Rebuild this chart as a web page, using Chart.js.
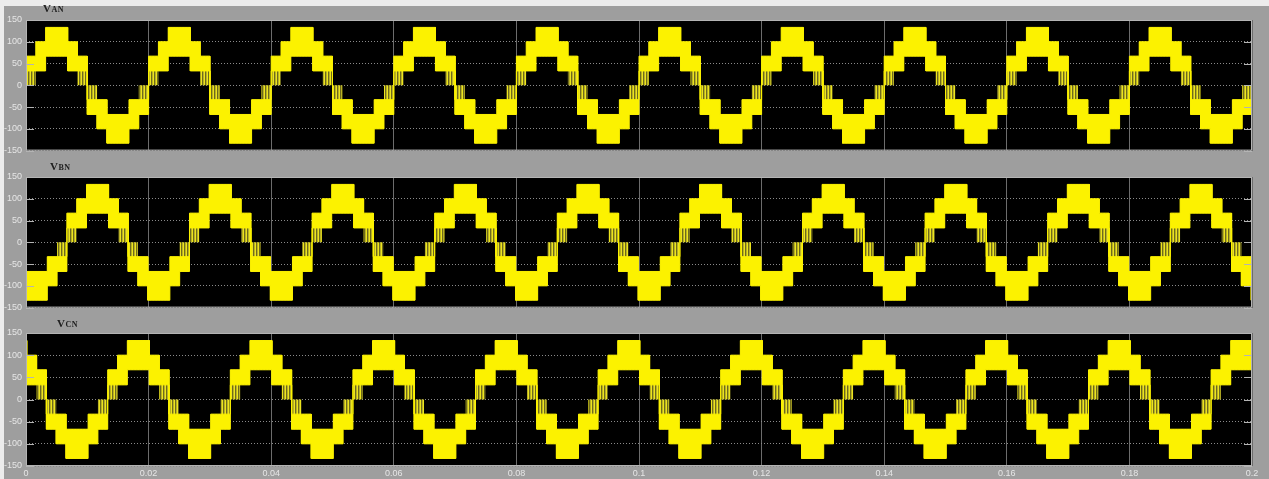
<!DOCTYPE html>
<html lang="en">
<head>
<meta charset="UTF-8">
<title>VAN / VBN / VCN</title>
<script src="https://cdn.jsdelivr.net/npm/chart.js"></script>
<style>
  body {
    margin: 0;
    width: 1269px;
    height: 479px;
    overflow: hidden;
    position: relative;
    background: #ececec;
  }
  #frame {
    position: absolute;
    left: 4px;
    top: 6px;
    width: 1265px;
    height: 473px;
    background: #9e9e9e;
  }
  canvas {
    position: absolute;
    left: 0;
  }
  .name {
    position: absolute;
    font-family: "Liberation Serif", serif;
    font-weight: bold;
    font-size: 8px;
    color: #202020;
    letter-spacing: 0.5px;
  }
  .name span {
    font-size: 11px;
  }
</style>
</head>
<body>
<div id="frame"></div>
<canvas id="van" width="1269" height="160" style="top:0"></canvas>
<canvas id="vbn" width="1269" height="157" style="top:160px"></canvas>
<canvas id="vcn" width="1269" height="162" style="top:317px"></canvas>
<div class="name" style="left:43px; top:2px"><span>V</span>AN</div>
<div class="name" style="left:50px; top:160px"><span>V</span>BN</div>
<div class="name" style="left:57px; top:317px"><span>V</span>CN</div>

<script>
// axes
const timeTicks = [0, 0.02, 0.04, 0.06, 0.08, 0.1, 0.12, 0.14, 0.16, 0.18, 0.2];
const timeTickLabels = ['0', '0.02', '0.04', '0.06', '0.08', '0.1', '0.12', '0.14', '0.16', '0.18', '0.2'];
const voltTicks = [-150, -100, -50, 0, 50, 100, 150];
const voltTickLabels = ['-150', '-100', '-50', '0', '50', '100', '150'];

// one period of the staircase (ms inside the period)
const periodMs = 20;
const cycles = 10;
const stepStartMs = [0, 1.6, 3.2, 6.8, 8.4, 10, 11.6, 13.2, 16.8, 18.4];
// whole band covered by the trace in each step (includes the sparse switching)
const outerTop    = [67, 100, 133, 100, 67, 0, -33, -67, -33, 0];
const outerBottom = [0, 33, 67, 33, 0, -67, -100, -133, -100, -67];
// the solid part of that band
const solidTop    = [67, 100, 133, 100, 67, -33, -33, -67, -33, -33];
const solidBottom = [33, 33, 67, 33, 33, -67, -100, -133, -100, -67];

// the three phases, each one delayed by a third of a period
const phaseIds = ['van', 'vbn', 'vcn'];
const phaseDelayMs = [0, 6.67, 13.33];

function band(values, delayMs) {
    const pts = [];
    for (let c = -1; c <= cycles; c++) {
        for (let i = 0; i < stepStartMs.length; i++) {
            const end = i + 1 < stepStartMs.length ? stepStartMs[i + 1] : periodMs;
            const t0 = (c * periodMs + delayMs + stepStartMs[i]) / 1000;
            const t1 = (c * periodMs + delayMs + end) / 1000;
            pts.push({ x: t0, y: values[i] }, { x: t1, y: values[i] });
        }
    }
    return pts;
}

// sparse switching shows up as thin vertical yellow lines
function stripes() {
    const c = document.createElement('canvas');
    c.width = 3;
    c.height = 1;
    const g = c.getContext('2d');
    g.fillStyle = '#ece41e'; g.fillRect(0, 0, 1, 1);
    g.fillStyle = '#6e6a1c'; g.fillRect(1, 0, 1, 1);
    g.fillStyle = '#b8b024'; g.fillRect(2, 0, 1, 1);
    return g.createPattern(c, 'repeat');
}

const plotFrame = {
    id: 'plotFrame',
    beforeDraw(chart) {
        const a = chart.chartArea;
        const ctx = chart.ctx;
        ctx.save();
        ctx.fillStyle = '#000000';
        ctx.fillRect(a.left, a.top, a.right - a.left, a.bottom - a.top);
        ctx.restore();
    },
    afterDraw(chart) {
        const a = chart.chartArea;
        const ctx = chart.ctx;
        const y = chart.scales.y;
        ctx.save();
        ctx.strokeStyle = '#b4b4b4';
        ctx.lineWidth = 1;
        ctx.strokeRect(a.left + 0.5, a.top + 0.5, a.right - a.left - 1, a.bottom - a.top - 1);
        ctx.beginPath();
        y.ticks.forEach(tk => {
            const py = Math.round(y.getPixelForValue(tk.value)) + 0.5;
            ctx.moveTo(a.left, py); ctx.lineTo(a.left + 8, py);
            ctx.moveTo(a.right - 8, py); ctx.lineTo(a.right, py);
        });
        ctx.stroke();
        ctx.restore();
    }
};

const pads = {
    van: { top: 20, bottom: 6 },
    vbn: { top: 17, bottom: 7 },
    vcn: { top: 16, bottom: 0 }
};

const hatch = stripes();
const yellow = '#fcf200';
const tickFont = { family: '"Liberation Sans", Arial, sans-serif', size: 9 };

phaseIds.forEach((id, k) => {
    const delay = phaseDelayMs[k];
    const showTime = id === 'vcn';
    new Chart(document.getElementById(id), {
        type: 'line',
        data: {
            datasets: [
                { data: band(outerTop, delay), borderWidth: 0, pointRadius: 0, fill: false, order: 2, clip: 0 },
                { data: band(outerBottom, delay), borderWidth: 0, pointRadius: 0, fill: '-1', backgroundColor: hatch, order: 2, clip: 0 },
                { data: band(solidTop, delay), borderWidth: 1, borderColor: yellow, pointRadius: 0, fill: false, order: 1, clip: 0 },
                { data: band(solidBottom, delay), borderWidth: 1, borderColor: yellow, pointRadius: 0, fill: '-1', backgroundColor: yellow, order: 1, clip: 0 }
            ]
        },
        options: {
            responsive: false,
            animation: false,
            devicePixelRatio: 1,
            layout: { padding: { top: pads[id].top, bottom: pads[id].bottom, left: 0, right: 17 } },
            plugins: { legend: { display: false }, tooltip: { enabled: false } },
            scales: {
                x: {
                    type: 'linear',
                    min: 0,
                    max: 0.2,
                    afterBuildTicks: s => { s.ticks = timeTicks.map(v => ({ value: v })); },
                    afterFit: s => { s.height = showTime ? 13 : 0; },
                    grid: { color: '#6c6c6c', drawTicks: false },
                    border: { display: false },
                    ticks: {
                        display: showTime,
                        color: '#e6e6e6',
                        font: tickFont,
                        padding: 2,
                        maxRotation: 0,
                        autoSkip: false,
                        callback: (v, i) => timeTickLabels[i]
                    }
                },
                y: {
                    min: -150,
                    max: 150,
                    afterBuildTicks: s => { s.ticks = voltTicks.map(v => ({ value: v })); },
                    afterFit: s => { s.width = 26; },
                    grid: { color: '#8a8a8a', drawTicks: false },
                    border: { display: false, dash: [1, 2] },
                    ticks: {
                        color: '#e6e6e6',
                        font: tickFont,
                        padding: 4,
                        callback: (v, i) => voltTickLabels[i]
                    }
                }
            }
        },
        plugins: [plotFrame]
    });
});
</script>
</body>
</html>
